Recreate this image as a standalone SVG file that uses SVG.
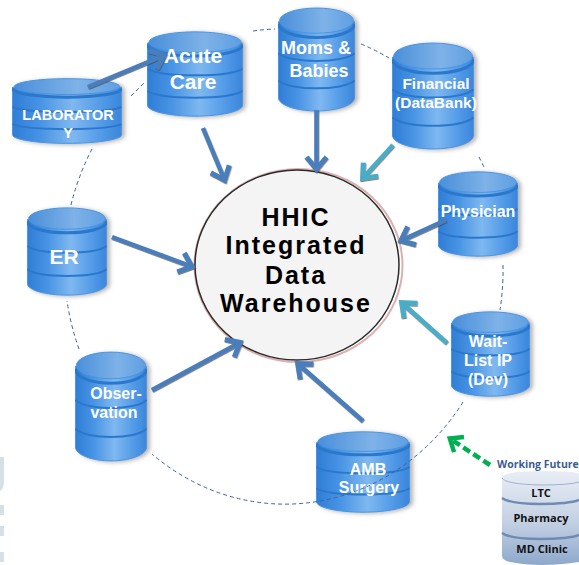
<svg xmlns="http://www.w3.org/2000/svg" width="579" height="565" viewBox="0 0 579 565">
<defs>
<linearGradient id="body" x1="0" x2="1" y1="0" y2="0"><stop offset="0" stop-color="#2f7dd6"/><stop offset=".25" stop-color="#4793e4"/><stop offset=".55" stop-color="#7fb8f0"/><stop offset=".8" stop-color="#559ce8"/><stop offset="1" stop-color="#3a86dc"/></linearGradient>
<linearGradient id="top" x1="0" x2="1" y1="0" y2="0"><stop offset="0" stop-color="#4a8fda"/><stop offset=".6" stop-color="#7eb2e8"/><stop offset="1" stop-color="#5f9fe2"/></linearGradient>
<linearGradient id="pale" x1="0" x2="0" y1="0" y2="1"><stop offset="0" stop-color="#e9eef5"/><stop offset=".55" stop-color="#c3d0e3"/><stop offset="1" stop-color="#8ea8cb"/></linearGradient>
<filter id="sh" x="-10%" y="-10%" width="125%" height="125%"><feDropShadow dx="3" dy="1" stdDeviation="2" flood-color="#777" flood-opacity=".55"/></filter>
<filter id="as" filterUnits="userSpaceOnUse" x="0" y="0" width="579" height="565"><feDropShadow dx="0.500" dy="1" stdDeviation="0.400" flood-color="#444" flood-opacity=".7"/></filter>
<symbol id="cyl" viewBox="0 0 100 100" preserveAspectRatio="none">
<path d="M0.500,14 V86 C0.500,94 25,99 50,99 C75,99 99.500,94 99.500,86 V14 Z" fill="url(#body)" stroke="#4a95e2" stroke-width="1" vector-effect="non-scaling-stroke"/>
<path d="M0.500,44 C15,54 85,54 99.500,44 M0.500,70 C15,80 85,80 99.500,70" fill="none" stroke="#2c78cc" stroke-width="2" vector-effect="non-scaling-stroke"/>
<path d="M0.500,16 C0.500,24 25,29 50,29 C75,29 99.500,24 99.500,16" fill="none" stroke="#2c78cc" stroke-width="3" vector-effect="non-scaling-stroke"/>
<ellipse cx="50" cy="13" rx="48" ry="12" fill="url(#top)" stroke="#4a95e2" stroke-width="1" vector-effect="non-scaling-stroke"/>
</symbol>
<marker id="hb" markerUnits="userSpaceOnUse" markerWidth="30" markerHeight="30" refX="24" refY="15" orient="auto"><path d="M11,5 L23,15 L11,25" fill="none" stroke="#4a7ebb" stroke-width="5"/></marker>
<marker id="ht" markerUnits="userSpaceOnUse" markerWidth="30" markerHeight="30" refX="24" refY="15" orient="auto"><path d="M11,5 L23,15 L11,25" fill="none" stroke="#4bacc6" stroke-width="5"/></marker>
<marker id="hg" markerUnits="userSpaceOnUse" markerWidth="30" markerHeight="30" refX="24" refY="15" orient="auto"><path d="M12,6 L23,15 L12,24" fill="none" stroke="#00b050" stroke-width="4.500"/></marker>
</defs>
<style>
text{font-family:"Liberation Sans",Arial,sans-serif;font-weight:bold;text-anchor:middle}
.w{fill:#fff}
.c{fill:#000;font-size:25px;letter-spacing:2px}
.f{font-family:"Open Sans","Liberation Sans",sans-serif;fill:#111;font-size:11px}
.dash{fill:none;stroke:#3d659c;stroke-width:1;stroke-dasharray:4 3}
.arr{fill:none;stroke:#4a7ebb;stroke-width:4.500;marker-end:url(#hb);filter:url(#as)}
.tea{fill:none;stroke:#4bacc6;stroke-width:4.500;marker-end:url(#ht);filter:url(#as)}
.grn{fill:none;stroke:#00b050;stroke-width:4.500;stroke-dasharray:8 4;marker-end:url(#hg)}
.shd{filter:url(#sh)}
</style>
<rect width="579" height="565" fill="#fff"/>
<g id="watermark" fill="#d5dfe6"><path d="M0,457 H4 V480 Q4,489 0,491 Z"/><rect x="0" y="505" width="4" height="10"/><rect x="0" y="526" width="4" height="10"/><rect x="0" y="552" width="4" height="10"/></g>

<g id="hub"><ellipse cx="298.500" cy="265.500" rx="104" ry="96.500" fill="none" stroke="#dcb0b0" stroke-width="2"/><ellipse cx="297" cy="265" rx="102" ry="95" fill="#f4f4f4" stroke="#2a2a2a" stroke-width="1.500"/>
<text class="c" x="296" y="226">HHIC</text><text class="c" x="296" y="254">Integrated</text><text class="c" x="296" y="284">Data</text><text class="c" x="296" y="312">Warehouse</text></g>

<g id="laboratory"><use href="#cyl" class="shd" x="12" y="78" width="110" height="66"/><text class="w" font-size="14.500" x="68" y="120">LABORATOR</text><text class="w" font-size="14.500" x="68" y="138">Y</text></g>
<g id="acute-care"><use href="#cyl" class="shd" x="147" y="31" width="96" height="86"/><text class="w" font-size="21" x="193" y="63">Acute</text><text class="w" font-size="21" x="193" y="89">Care</text></g>
<g id="moms-babies"><use href="#cyl" class="shd" x="278" y="7" width="77" height="105"/><text class="w" font-size="18" x="316" y="54">Moms &amp;</text><text class="w" font-size="18" x="319" y="77">Babies</text></g>
<g id="financial"><use href="#cyl" class="shd" x="392" y="42" width="82" height="108"/><text class="w" font-size="15.500" x="436" y="89">Financial</text><text class="w" font-size="15.500" x="436" y="108">(DataBank)</text></g>
<g id="physician"><use href="#cyl" class="shd" x="438" y="171" width="80" height="86"/><text class="w" font-size="16" x="478" y="217">Physician</text></g>
<g id="wait-list"><use href="#cyl" class="shd" x="451" y="311" width="79" height="86"/><text class="w" font-size="16" x="488" y="347">Wait-</text><text class="w" font-size="16" x="488" y="366">List IP</text><text class="w" font-size="16" x="488" y="385">(Dev)</text></g>
<g id="amb-surgery"><use href="#cyl" class="shd" x="316" y="431" width="94" height="82"/><text class="w" font-size="16" x="368" y="475">AMB</text><text class="w" font-size="16" x="369" y="493">Surgery</text></g>
<g id="er"><use href="#cyl" class="shd" x="27" y="207" width="80" height="89"/><text class="w" font-size="21" x="64" y="264">ER</text></g>
<g id="observation"><use href="#cyl" class="shd" x="75" y="351" width="72" height="111"/><text class="w" font-size="16" x="116" y="399">Obser-</text><text class="w" font-size="16" x="114" y="418">vation</text></g>

<g id="working-future">
<text x="497" y="468" style="text-anchor:start;font-family:'Open Sans','Liberation Sans',sans-serif;font-size:10.500px;fill:#3b5c94">Working Future</text>
<path d="M502,478 Q502,471 542,471 Q579,471 579,474 V562 Q540,568 510,562 Q502,560 502,556 Z" fill="url(#pale)"/>
<path d="M502,478 Q505,484 540,485 Q570,485 579,482" fill="none" stroke="#9fb2cd" stroke-width="1"/>
<path d="M502,498 Q510,504 540,504 Q570,504 579,500 M502,533 Q510,539 540,539 Q570,539 579,535" fill="none" stroke="#6f8bb3" stroke-width="2.500"/>
<text class="f" x="541" y="497">LTC</text><text class="f" x="541" y="522">Pharmacy</text><text class="f" x="542" y="553">MD Clinic</text>
</g>

<g id="connectors">
<path class="dash" d="M131,96 L144,83"/>
<path class="dash" d="M253,31 A216 236 0 0 1 275,29"/>
<path class="dash" d="M361,44 A216 236 0 0 1 389,58"/>
<path class="dash" d="M479,157 L484,167"/>
<path class="dash" d="M503,265 A216 236 0 0 1 500,310"/>
<path class="dash" d="M463,402 A216 236 0 0 1 152,454"/>
<path class="dash" d="M79,349 A216 236 0 0 1 67,301"/>
<path class="dash" d="M71,205 A216 236 0 0 1 92,149"/>
<path class="arr" d="M88,87 L165,55"/>
<path class="arr" d="M203,128 L225,181"/>
<path class="arr" d="M316.500,110 L316.500,170"/>
<path class="tea" d="M393,145 L362,179"/>
<path class="arr" d="M446,220 L400,241"/>
<path class="tea" d="M447,343 L401,302"/>
<path class="arr" d="M363,421 L297,363"/>
<path class="arr" d="M152,390 L241,342"/>
<path class="arr" d="M112,237 L193,267"/>
<path class="grn" d="M490,465 L449,438"/>
</g>
</svg>
